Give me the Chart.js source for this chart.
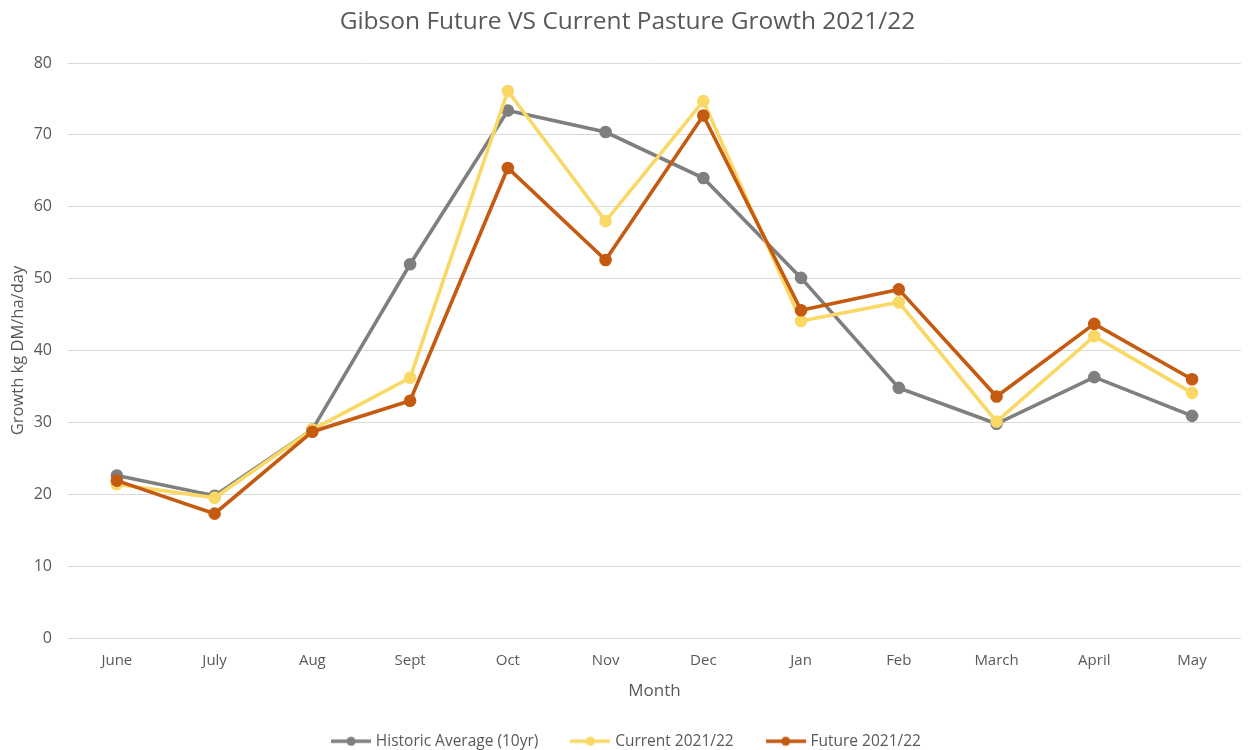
<!DOCTYPE html>
<html>
<head>
<meta charset="utf-8">
<script src="https://cdn.jsdelivr.net/npm/chart.js@4.4.1/dist/chart.umd.min.js"></script>
<style>
  html, body { margin: 0; padding: 0; background: #ffffff; }
  #wrap { width: 1249px; height: 750px; }
</style>
</head>
<body>
<div id="wrap"><canvas id="chart" width="1249" height="750"></canvas></div>
<script>
// Monthly pasture growth, kg DM/ha/day
const months = ['June', 'July', 'Aug', 'Sept', 'Oct', 'Nov', 'Dec', 'Jan', 'Feb', 'March', 'April', 'May'];
const historicAverage = [22.6, 19.8, 29.0, 52.0, 73.4, 70.4, 64.0, 50.1, 34.8, 29.8, 36.3, 30.9];
const current2122 = [21.4, 19.5, 29.0, 36.2, 76.1, 58.0, 74.7, 44.1, 46.7, 30.1, 42.0, 34.1];
const future2122 = [21.9, 17.3, 28.7, 33.0, 65.4, 52.6, 72.7, 45.6, 48.5, 33.6, 43.7, 36.0];
const yTicks = [0, 10, 20, 30, 40, 50, 60, 70, 80];

const GREY = '#7f7f7f';
const YELLOW = '#f9d866';
const ORANGE = '#c55a11';
const TEXT = '#595959';
const FONT = "'Open Sans', 'Liberation Sans', sans-serif";

// legend swatch: short line with a dot in the middle
function swatch(color) {
  const c = document.createElement('canvas');
  c.width = 40; c.height = 12;
  const g = c.getContext('2d');
  g.strokeStyle = color; g.lineWidth = 3.5;
  g.beginPath(); g.moveTo(0, 6); g.lineTo(40, 6); g.stroke();
  g.fillStyle = color;
  g.beginPath(); g.arc(20, 6, 4.5, 0, Math.PI * 2); g.fill();
  return c;
}

function series(label, data, color, order) {
  return {
    label, data, order,
    borderColor: color, backgroundColor: color,
    pointBackgroundColor: color, pointBorderColor: color,
    borderWidth: 3.6, pointRadius: 4.5, pointHoverRadius: 4.5,
    pointStyle: 'circle', tension: 0, fill: false
  };
}

const legendSwatches = [swatch(GREY), swatch(YELLOW), swatch(ORANGE)];

new Chart(document.getElementById('chart'), {
  type: 'line',
  data: {
    labels: months,
    datasets: [
      series('Historic Average (10yr)', historicAverage, GREY, 3),
      series('Current 2021/22', current2122, YELLOW, 2),
      series('Future 2021/22', future2122, ORANGE, 1)
    ]
  },
  options: {
    responsive: false,
    animation: false,
    events: [],
    layout: { padding: { left: 6, right: 0, top: 0, bottom: -9 } },
    plugins: {
      title: {
        display: true,
        text: 'Gibson Future VS Current Pasture Growth 2021/22',
        color: TEXT,
        font: { family: FONT, size: 24.5, weight: 'normal' },
        padding: { top: 7.3, bottom: 26.3 }
      },
      legend: {
        position: 'bottom',
        labels: {
          color: TEXT,
          font: { family: FONT, size: 15.5 },
          usePointStyle: true,
          pointStyleWidth: 34,
          boxHeight: 12,
          padding: 35,
          sort: (a, b) => a.datasetIndex - b.datasetIndex,
          generateLabels: (chart) => chart.data.datasets.map((ds, i) => ({
            text: ds.label,
            fontColor: TEXT,
            pointStyle: legendSwatches[i],
            strokeStyle: 'transparent',
            fillStyle: 'transparent',
            lineWidth: 0,
            datasetIndex: i,
            hidden: false
          }))
        }
      },
      tooltip: { enabled: false }
    },
    scales: {
      x: {
        offset: true,
        afterFit: (axis) => { axis.height = 60.5; },
        grid: { display: false, drawTicks: false },
        border: { display: false },
        ticks: { color: TEXT, font: { family: FONT, size: 15 }, padding: 14 },
        title: {
          display: true, text: 'Month', color: TEXT,
          font: { family: FONT, size: 17 }, padding: { top: 0, bottom: -2.7 }
        }
      },
      y: {
        min: 0, max: 80,
        afterFit: (axis) => { axis.width = 62; },
        afterBuildTicks: (axis) => { axis.ticks = yTicks.map(v => ({ value: v })); },
        grid: { color: '#d9d9d9', lineWidth: 1, drawTicks: false },
        border: { display: false },
        ticks: { color: TEXT, font: { family: FONT, size: 16 }, padding: 16 },
        title: {
          display: true, text: 'Growth kg DM/ha/day', color: TEXT,
          font: { family: FONT, size: 16.5 }, padding: { top: 2.1, bottom: 0 }
        }
      }
    }
  }
});
</script>
</body>
</html>
